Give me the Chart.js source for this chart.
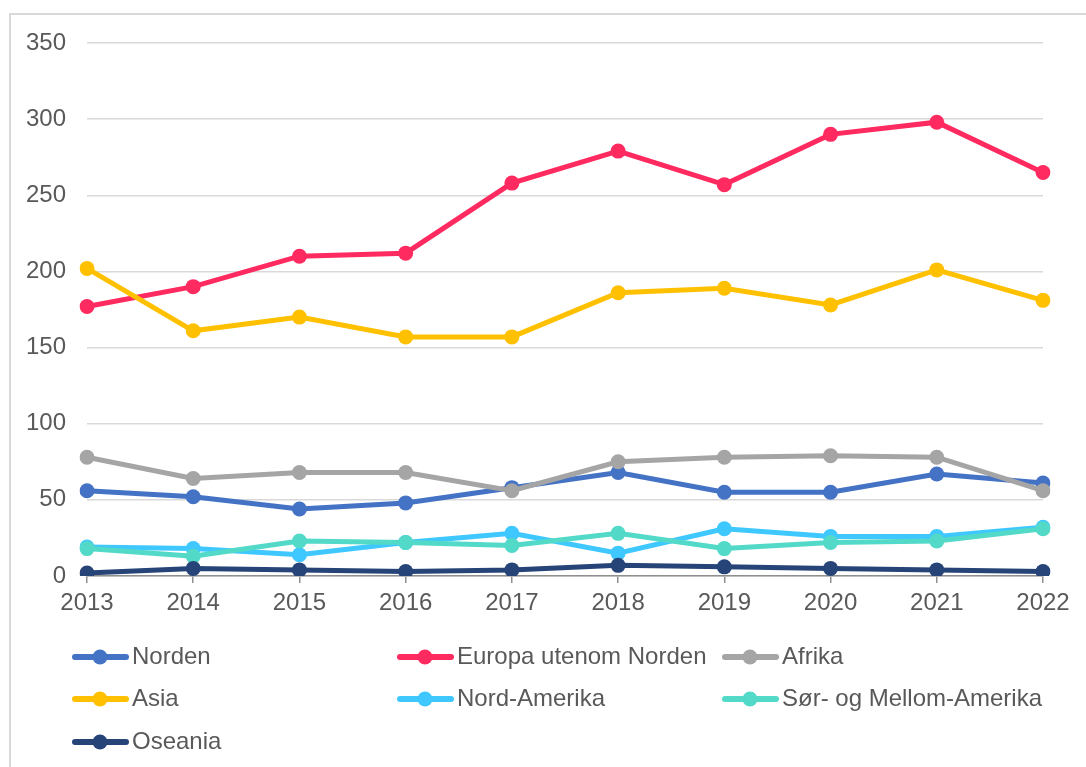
<!DOCTYPE html>
<html>
<head>
<meta charset="utf-8">
<script src="https://cdn.jsdelivr.net/npm/chart.js@4"></script>
<style>
    html, body { margin: 0; padding: 0; background: #fff; }
    #wrap { position: relative; width: 1086px; height: 767px; overflow: hidden; }
    #frame {
        position: absolute; left: 9px; top: 13px; width: 1100px; height: 800px;
        border: 2px solid #d9d9d9; box-sizing: border-box;
    }
    #chart { position: absolute; left: 0; top: 0; }
</style>
</head>
<body>
<div id="wrap">
    <div id="frame"></div>
    <canvas id="chart" width="1086" height="767"></canvas>
</div>
<script>
const years = ['2013', '2014', '2015', '2016', '2017', '2018', '2019', '2020', '2021', '2022'];

const norden = [56, 52, 44, 48, 58, 68, 55, 55, 67, 61];
const europa = [177, 190, 210, 212, 258, 279, 257, 290, 298, 265];
const afrika = [78, 64, 68, 68, 56, 75, 78, 79, 78, 56];
const asia = [202, 161, 170, 157, 157, 186, 189, 178, 201, 181];
const nordAmerika = [19, 18, 14, 22, 28, 15, 31, 26, 26, 32];
const sorMellom = [18, 13, 23, 22, 20, 28, 18, 22, 23, 31];
const oseania = [2, 5, 4, 3, 4, 7, 6, 5, 4, 3];

const seriesNames = ['Norden', 'Europa utenom Norden', 'Afrika', 'Asia', 'Nord-Amerika', 'Sør- og Mellom-Amerika', 'Oseania'];
const seriesData = [norden, europa, afrika, asia, nordAmerika, sorMellom, oseania];
const seriesColors = ['#4472c4', '#ff2a5f', '#a5a5a5', '#ffc000', '#3fc8ff', '#52d9c8', '#264478'];

const FONT = 'Liberation Sans, Arial, sans-serif';
const TEXT = '#595959';

// legend drawn in the canvas, 3 columns like the original
const gridLegend = {
    id: 'gridLegend',
    afterDraw(chart) {
        const ctx = chart.ctx;
        const cols = [73, 398, 723];
        const rows = [657, 699, 742];
        ctx.save();
        chart.data.datasets.forEach((ds, i) => {
            const x = cols[i % 3];
            const y = rows[Math.floor(i / 3)];
            ctx.strokeStyle = ds.borderColor;
            ctx.lineWidth = 6;
            ctx.lineCap = 'round';
            ctx.beginPath();
            ctx.moveTo(x + 2, y);
            ctx.lineTo(x + 53, y);
            ctx.stroke();
            ctx.fillStyle = ds.borderColor;
            ctx.beginPath();
            ctx.arc(x + 27, y, 7.5, 0, Math.PI * 2);
            ctx.fill();
            ctx.fillStyle = TEXT;
            ctx.font = '24px ' + FONT;
            ctx.textBaseline = 'middle';
            ctx.textAlign = 'left';
            ctx.fillText(ds.label, x + 59, y);
        });
        ctx.restore();
    },
};

const datasets = seriesNames.map((name, i) => ({
    label: name,
    data: seriesData[i],
    borderColor: seriesColors[i],
    backgroundColor: seriesColors[i],
    borderWidth: 5,
    pointRadius: 7.5,
    pointHoverRadius: 7.5,
    pointBorderWidth: 0,
    pointBackgroundColor: seriesColors[i],
    tension: 0,
    order: -i,
}));

new Chart(document.getElementById('chart'), {
    type: 'line',
    data: { labels: years, datasets: datasets },
    options: {
        responsive: false,
        animation: false,
        layout: { padding: { top: 43, left: 0, right: 43, bottom: 150 } },
        plugins: {
            legend: { display: false },
            tooltip: { enabled: false },
        },
        scales: {
            x: {
                offset: false,
                afterFit: (s) => { s.height = 41; },
                grid: {
                    drawOnChartArea: false,
                    drawTicks: true,
                    tickLength: 7,
                    color: '#8f8f8f',
                    lineWidth: 1.5,
                },
                border: { display: true, color: '#8f8f8f', width: 1.5 },
                ticks: {
                    color: TEXT,
                    font: { family: FONT, size: 24 },
                    padding: 6,
                    maxRotation: 0,
                    autoSkip: false,
                },
            },
            y: {
                min: 0,
                max: 350,
                afterFit: (s) => { s.width = 87; },
                grid: { color: '#d9d9d9', lineWidth: 1.5, drawTicks: false },
                border: { display: false },
                ticks: {
                    stepSize: 50,
                    color: TEXT,
                    font: { family: FONT, size: 24 },
                    padding: 21,
                },
            },
        },
    },
    plugins: [gridLegend],
});
</script>
</body>
</html>
